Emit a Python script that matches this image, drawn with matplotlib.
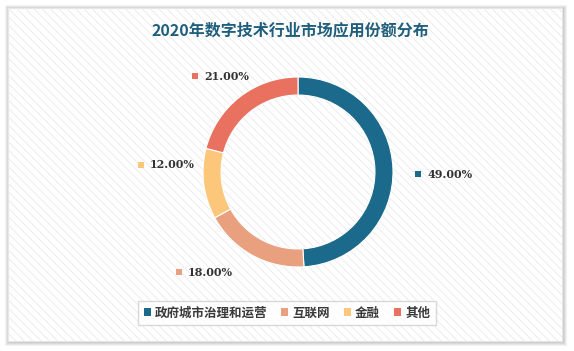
import matplotlib
matplotlib.use("Agg")
import matplotlib.pyplot as plt
from matplotlib.patches import Rectangle, Patch

categories = ["政府城市治理和运营", "互联网", "金融", "其他"]
values = [49.0, 18.0, 12.0, 21.0]
colors = ["#1b6a8c", "#e8a07e", "#fdc77b", "#e8725f"]
title = "2020年数字技术行业市场应用份额分布"

plt.rcParams["hatch.linewidth"] = 0.7

W, H = 574, 351
fig = plt.figure(figsize=(W / 100, H / 100), dpi=100)
fig.patch.set_facecolor("white")

bg = fig.add_axes([0, 0, 1, 1])
bg.set_xlim(0, W)
bg.set_ylim(H, 0)
bg.axis("off")
# shadow
for i, a in enumerate([0.05, 0.05, 0.05, 0.06, 0.07]):
    d = 5 - i
    bg.add_patch(Rectangle((8 - d + 2, 8 - d + 2), 554 + 2 * d - 2, 333 + 2 * d - 2,
                           facecolor="black", alpha=a, edgecolor="none"))
bg.add_patch(Rectangle((8, 8), 554, 333, facecolor="white", edgecolor="#e6e6e6", lw=0.8))
bg.add_patch(Rectangle((8, 8), 554, 333, facecolor="none", edgecolor="#ececec",
                       hatch="\\\\\\\\", lw=0))

cx, cy, r = 298, 172, 95
ax = fig.add_axes([(cx - r) / W, (H - cy - r) / H, 2 * r / W, 2 * r / H])
wedges, _ = ax.pie(values, colors=colors, startangle=90, counterclock=False,
                   radius=1.0, wedgeprops=dict(width=0.19, edgecolor="white", linewidth=0.8))
ax.set_xlim(-1, 1)
ax.set_ylim(-1, 1)
ax.axis("off")

fig.text(290 / W, 1 - 30 / H, title, ha="center", va="center", fontsize=11.5,
         fontweight="bold", color="#1f5f7d", family=["Noto Sans CJK SC", "DejaVu Sans"])

label_pos = [(418, 174), (179, 272), (141, 165), (195, 76)]
for (x, y), v, c in zip(label_pos, values, colors):
    bg.add_patch(Rectangle((x - 3, y - 3), 6, 6, facecolor=c, edgecolor="none"))
    bg.text(x + 9, y, f"{v:.2f}%", ha="left", va="center", fontsize=8,
            fontweight="bold", color="#333333", family="DejaVu Serif")

handles = [Patch(facecolor=c, edgecolor="none") for c in colors]
leg = fig.legend(handles, categories, loc="center", bbox_to_anchor=(287 / W, 1 - 313 / H),
                 ncol=4, frameon=True, fancybox=False, handlelength=0.55, handleheight=0.55,
                 handletextpad=0.35, columnspacing=1.1, borderpad=0.45,
                 prop=dict(family=["Noto Sans CJK SC", "DejaVu Sans"], size=9, weight="bold"))
leg.get_frame().set_edgecolor("#d0d0d0")
leg.get_frame().set_linewidth(1.0)
for t in leg.get_texts():
    t.set_color("#3a3a3a")

fig.savefig("out.png", dpi=100)
